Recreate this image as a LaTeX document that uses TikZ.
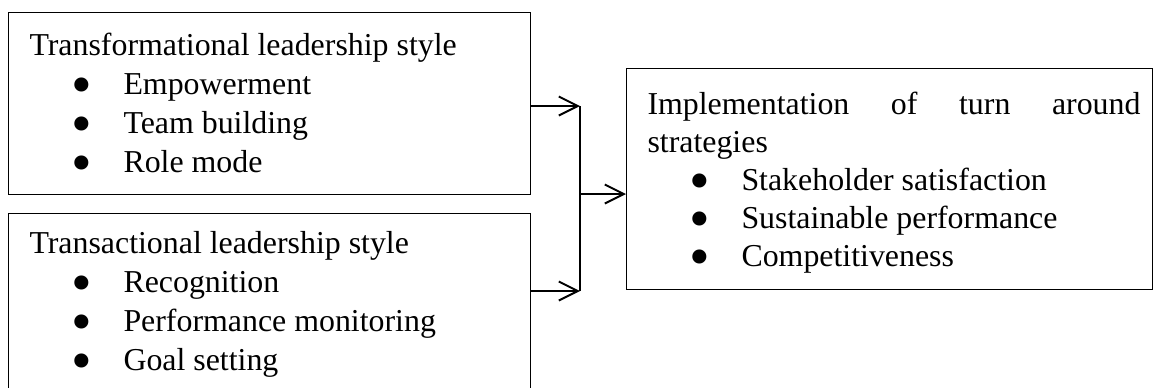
\documentclass[tikz,border=0pt]{standalone}
\usepackage{graphicx}
\usepackage{fontspec}
\setmainfont{Liberation Serif}
\usetikzlibrary{arrows.meta}

\newcommand{\itm}[1]{\hspace*{16.9pt}\makebox[20.7pt][l]{\smash{\raisebox{-4pt}{\scalebox{1.85}{\textbullet}}}}#1}

\tikzset{
  box/.style={draw, line width=0.5pt, anchor=north west, inner sep=0pt},
  txt/.style={anchor=base west, inner sep=0pt, font=\fontsize{12.75}{15.6}\selectfont},
  arr/.style={-{Straight Barb[length=7.6pt,width=7.6pt]}, line width=0.8pt},
}

\begin{document}
\begin{tikzpicture}[x=0.4pt, y=-0.4pt]
    \useasboundingbox (0,0) rectangle (1153,387);

    \node[box, minimum width=208.8pt, minimum height=72.8pt] (trf) at (8,12) {};
    \node[box, minimum width=208.8pt, minimum height=80pt] (trs) at (8,212.7) {};
    \node[box, minimum width=210.4pt, minimum height=88.4pt] (impl) at (626,68) {};

    \node[txt] (trftxt) at (29,55) {\begin{tabular}[t]{@{}l@{}}
        Transformational leadership style\\
        \itm{Empowerment}\\
        \itm{Team building}\\
        \itm{Role mode}
      \end{tabular}};
    \node[txt] (trstxt) at (29,253) {\begin{tabular}[t]{@{}l@{}}
        Transactional leadership style\\
        \itm{Recognition}\\
        \itm{Performance monitoring}\\
        \itm{Goal setting}
      \end{tabular}};
    \node[txt, font=\fontsize{12.75}{15.2}\selectfont] (impltxt) at (647,114) {\begin{tabular}[t]{@{}l@{}}
        \makebox[197.2pt][s]{Implementation of turn around}\\
        strategies\\
        \itm{Stakeholder satisfaction}\\
        \itm{Sustainable performance}\\
        \itm{Competitiveness}
      \end{tabular}};

    \coordinate (jtop) at (580,106);
    \coordinate (jmid) at (580,194);
    \coordinate (jbot) at (580,291);

    \draw[arr] (trf.east |- jtop) -- (jtop);
    \draw[arr] (trs.east |- jbot) -- (jbot);
    \draw[line width=0.5pt] (jtop) -- (jbot);
    \draw[arr] (jmid) -- (impl.west |- jmid);
  \end{tikzpicture}
\end{document}
